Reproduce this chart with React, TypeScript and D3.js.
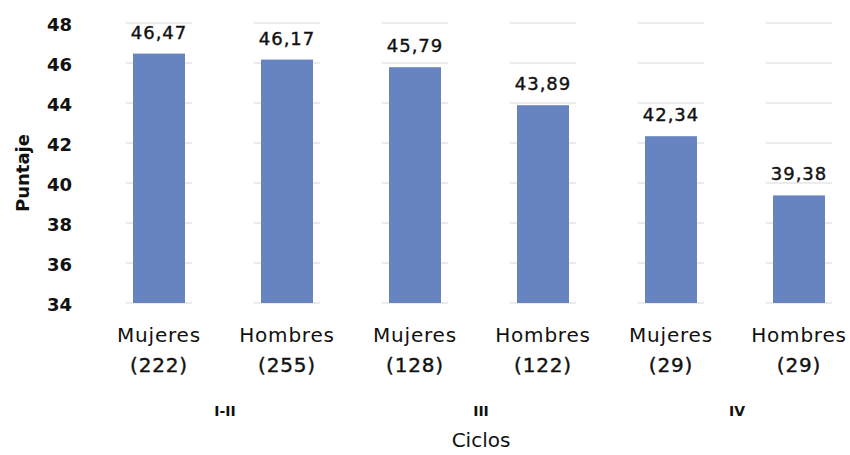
import React from "react";
import * as d3 from "d3";

const categories = ["Mujeres", "Hombres", "Mujeres", "Hombres", "Mujeres", "Hombres"];
const counts = ["(222)", "(255)", "(128)", "(122)", "(29)", "(29)"];
const values = [46.47, 46.17, 45.79, 43.89, 42.34, 39.38];
const groups = ["I-II", "III", "IV"];
const yTicks = [34, 36, 38, 40, 42, 44, 46, 48];

const W = 850;
const H = 455;

export default function App() {
  const idx = values.map((_, i) => String(i));
  const x = d3.scaleBand<string>().domain(idx).range([95, 863]).paddingInner(0.594).paddingOuter(0.297);
  const y = d3.scaleLinear().domain([34, 48]).range([303, 23]);
  const bw = x.bandwidth();
  const font = "'DejaVu Sans', sans-serif";
  const fmt = (v: number) => v.toFixed(2).replace(".", ",");

  return (
    <svg width={W} height={H} style={{ position: "absolute", left: 0, top: 0, background: "#fff" }}>
      {idx.map((k) =>
        yTicks.map((t) => (
          <line
            key={k + "-" + t}
            x1={(x(k) as number) - 7}
            x2={(x(k) as number) + bw + 7}
            y1={y(t)}
            y2={y(t)}
            stroke="#e4e4e4"
            strokeWidth={1.5}
          />
        ))
      )}
      {values.map((v, i) => (
        <rect
          key={i}
          x={x(String(i))}
          y={y(v)}
          width={bw}
          height={y(34) - y(v)}
          fill="#6783c0"
        />
      ))}
      {values.map((v, i) => (
        <text
          key={"v" + i}
          x={(x(String(i)) as number) + bw / 2}
          y={y(v) - 15}
          textAnchor="middle"
          fontFamily={font}
          fontSize={18}
          letterSpacing={1}
          stroke="#111"
          strokeWidth={0.4}
          fill="#111"
        >
          {fmt(v)}
        </text>
      ))}
      {yTicks.map((t) => (
        <text
          key={"t" + t}
          x={72}
          y={y(t) + 8}
          textAnchor="end"
          fontFamily={font}
          fontSize={18}
          fontWeight="bold"
          fill="#111"
        >
          {t}
        </text>
      ))}
      {categories.map((c, i) => {
        const cx = (x(String(i)) as number) + bw / 2;
        return (
          <g key={"c" + i}>
            <text x={cx} y={342} textAnchor="middle" fontFamily={font} fontSize={20} letterSpacing={0.8} fill="#111">
              {c}
            </text>
            <text x={cx} y={372} textAnchor="middle" fontFamily={font} fontSize={20} letterSpacing={0.8} stroke="#111" strokeWidth={0.4} fill="#111">
              {counts[i]}
            </text>
          </g>
        );
      })}
      {groups.map((g, gi) => {
        const a = (x(String(gi * 2)) as number) + bw / 2;
        const b = (x(String(gi * 2 + 1)) as number) + bw / 2;
        return (
          <text key={"g" + gi} x={(a + b) / 2 + 2} y={416} textAnchor="middle" fontFamily={font} fontSize={14} fontWeight="bold" fill="#111">
            {g}
          </text>
        );
      })}
      <text x={481} y={447} textAnchor="middle" fontFamily={font} fontSize={20} fill="#111">
        Ciclos
      </text>
      <text
        transform={`translate(29,173) rotate(-90)`}
        textAnchor="middle"
        fontFamily={font}
        fontSize={18}
        fontWeight="bold"
        fill="#111"
      >
        Puntaje
      </text>
    </svg>
  );
}
